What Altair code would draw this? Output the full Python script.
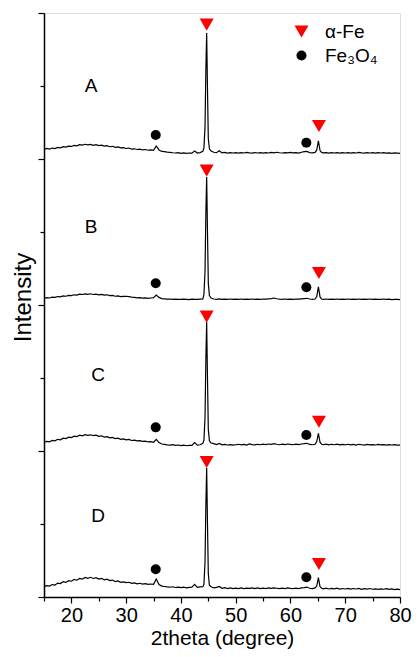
import altair as alt
import pandas as pd

# 2theta sampling positions (degree)
X = [15.0, 15.5, 16.0, 16.5, 17.0, 17.5, 18.0, 18.5, 19.0, 19.5,
     20.0, 20.5, 21.0, 21.5, 22.0, 22.5, 23.0, 23.5, 24.0, 24.5,
     25.0, 25.5, 26.0, 26.5, 27.0, 27.5, 28.0, 28.5, 29.0, 29.5,
     30.0, 30.5, 31.0, 31.5, 32.0, 32.5, 33.0, 33.5, 34.0, 34.5,
     35.0, 35.5, 36.0, 36.5, 37.0, 37.5, 38.0, 38.5, 39.0, 39.5,
     40.0, 40.5, 41.0, 41.5, 42.0, 42.5, 43.0, 43.5, 44.0,
     44.2, 44.4, 44.55, 44.7, 44.85, 45.0, 45.2,
     45.5, 46.0, 46.5, 47.0, 47.5, 48.0, 48.5, 49.0, 49.5, 50.0,
     50.5, 51.0, 51.5, 52.0, 52.5, 53.0, 53.5, 54.0, 54.5, 55.0,
     55.5, 56.0, 56.5, 57.0, 57.5, 58.0, 58.5, 59.0, 59.5, 60.0,
     60.5, 61.0, 61.5, 62.0, 62.5, 63.0, 63.5, 64.0, 64.5,
     64.8, 65.1, 65.4, 65.7,
     66.0, 66.5, 67.0, 67.5, 68.0, 68.5, 69.0, 69.5, 70.0,
     70.5, 71.0, 71.5, 72.0, 72.5, 73.0, 73.5, 74.0, 74.5, 75.0,
     75.5, 76.0, 76.5, 77.0, 77.5, 78.0, 78.5, 79.0, 79.5, 80.0]

# intensities (a.u.)
A = [66, 72, 68, 75, 71, 79, 76, 84, 81, 88,
     86, 93, 90, 98, 95, 101, 97, 100, 94, 98,
     92, 95, 88, 91, 84, 87, 80, 83, 76, 78,
     72, 75, 68, 70, 65, 68, 62, 65, 60, 63,
     60, 89, 62, 52, 50, 47, 46, 43, 41, 44,
     39, 42, 38, 41, 40, 55, 41, 44, 52,
     75, 220, 600, 863, 480, 140, 70,
     55, 46, 43, 56, 42, 45, 40, 44, 41, 43,
     40, 44, 41, 45, 42, 40, 44, 41, 43, 40,
     44, 41, 45, 42, 46, 43, 41, 44, 42, 45,
     42, 44, 41, 46, 50, 52, 44, 42, 45,
     62, 125, 58, 45,
     42, 44, 40, 43, 41, 44, 40, 43, 41,
     44, 40, 43, 41, 45, 42, 40, 44, 41, 43,
     40, 44, 41, 43, 40, 42, 39, 42, 40, 38]

B = [46, 50, 48, 54, 52, 58, 56, 62, 60, 66,
     64, 70, 68, 74, 72, 76, 73, 77, 72, 75,
     70, 73, 68, 70, 64, 66, 60, 62, 57, 59,
     60, 58, 54, 52, 49, 50, 47, 49, 46, 48,
     50, 68, 52, 44, 42, 40, 41, 38, 40, 39,
     38, 40, 39, 37, 40, 39, 38, 40, 42,
     70, 230, 620, 877, 500, 150, 65,
     48, 41, 39, 42, 38, 40, 39, 41, 38, 40,
     39, 41, 38, 40, 39, 41, 38, 40, 39, 41,
     40, 42, 44, 48, 43, 40, 39, 41, 38, 40,
     39, 41, 40, 42, 44, 46, 41, 39, 41,
     58, 125, 55, 41,
     39, 41, 38, 40, 39, 41, 38, 40, 39,
     41, 38, 40, 39, 41, 38, 40, 39, 41, 38,
     40, 38, 39, 41, 38, 40, 37, 39, 38, 37]

C = [60, 66, 63, 72, 70, 80, 77, 88, 85, 95,
     92, 102, 98, 108, 104, 112, 107, 111, 105, 109,
     100, 104, 95, 98, 90, 93, 85, 88, 80, 83,
     76, 79, 72, 74, 69, 71, 66, 68, 62, 64,
     60, 80, 58, 48, 45, 42, 40, 43, 38, 41,
     37, 40, 36, 39, 38, 58, 40, 43, 52,
     75, 230, 620, 884, 500, 150, 70,
     55, 50, 44, 52, 42, 45, 41, 44, 40, 43,
     46, 42, 45, 41, 48, 44, 42, 46, 43, 47,
     44, 48, 45, 50, 46, 43, 47, 44, 48, 45,
     43, 47, 44, 48, 50, 53, 45, 43, 46,
     65, 121, 60, 46,
     43, 47, 42, 46, 43, 47, 42, 45, 43,
     46, 42, 45, 41, 46, 43, 40, 45, 42, 44,
     41, 45, 42, 44, 40, 43, 41, 44, 40, 40]

D = [71, 78, 75, 85, 82, 95, 92, 105, 100, 112,
     108, 120, 115, 127, 122, 134, 128, 135, 127, 132,
     123, 128, 118, 122, 112, 116, 106, 110, 100, 104,
     98, 101, 94, 97, 90, 94, 88, 91, 86, 89,
     87, 123, 85, 75, 72, 69, 67, 70, 65, 68,
     64, 67, 63, 66, 68, 87, 66, 69, 70,
     85, 240, 620, 884, 500, 160, 80,
     70, 62, 66, 72, 60, 64, 58, 62, 57, 61,
     58, 62, 57, 61, 59, 63, 58, 62, 57, 61,
     58, 62, 59, 63, 60, 57, 61, 58, 62, 59,
     57, 61, 58, 62, 64, 68, 60, 58, 62,
     75, 132, 70, 60,
     56, 60, 55, 59, 56, 60, 54, 58, 55,
     59, 54, 58, 55, 59, 53, 57, 54, 58, 53,
     56, 52, 56, 53, 57, 52, 55, 51, 54, 50]

SAMPLES = ["A", "B", "C", "D"]
OFFSETS = [3000, 2000, 1000, 0]

# phase markers
PHASES = ["α-Fe", "Fe₃O₄"]
FE_X = [44.7, 65.2]
FE_Y = {"A": [920, 226], "B": [920, 219], "C": [920, 200], "D": [925, 226]}
OX_X = [35.4, 62.9]
OX_Y = {"A": [164, 112], "B": [149, 121], "C": [162, 110], "D": [190, 135]}

# sample labels
LAB_X = [23.6, 23.6, 24.9, 24.9]
LAB_Y = [500, 536, 520, 557]

FONT = "Liberation Sans"

rows = []
for s, off, vals in zip(SAMPLES, OFFSETS, [A, B, C, D]):
    for x, v in zip(X, vals):
        rows.append({"sample": s, "tt": x, "I": off + v})
df = pd.DataFrame(rows)

mrows = []
for s, off in zip(SAMPLES, OFFSETS):
    for x, y in zip(FE_X, FE_Y[s]):
        mrows.append({"phase": PHASES[0], "tt": x, "I": off + y})
    for x, y in zip(OX_X, OX_Y[s]):
        mrows.append({"phase": PHASES[1], "tt": x, "I": off + y})
dm = pd.DataFrame(mrows)

dl = pd.DataFrame({"label": SAMPLES, "tt": LAB_X,
                   "I": [o + v for o, v in zip(OFFSETS, LAB_Y)]})

xs = alt.Scale(domain=[15, 80], nice=False, zero=False)
ys = alt.Scale(domain=[0, 4000], nice=False, zero=False)

line = alt.Chart(df).mark_line(color="black", strokeWidth=1.2).encode(
    x=alt.X("tt:Q", scale=xs, axis=alt.Axis(
        values=[20, 30, 40, 50, 60, 70, 80], tickSize=6, tickWidth=1.2,
        tickColor="black", labelFontSize=20, labelFont=FONT, labelColor="black",
        labelPadding=2, labelFlush=False, grid=False, domainColor="black", domainWidth=1.5,
        title="2theta (degree)", titleFont=FONT, titleFontSize=21,
        titleFontWeight="normal", titleColor="black", titleBaseline="alphabetic",
        titleY=47.5)),
    y=alt.Y("I:Q", scale=ys, axis=alt.Axis(
        values=[0, 1000, 2000, 3000, 4000], labels=False, tickSize=6, tickWidth=1.2,
        tickColor="black", grid=False, domainColor="black", domainWidth=1.5,
        title="Intensity", titleFont=FONT, titleFontSize=24, titleFontWeight="normal",
        titleColor="black", titleBaseline="alphabetic", titleX=-14, titleY=284,
        titleAngle=-90, titleAlign="center")),
    detail="sample:N",
    order="tt:Q",
)

leg = dict(title=None, orient="none", legendX=248, legendY=9,
           labelFontSize=19, labelFont=FONT, labelColor="black",
           symbolStrokeWidth=0, rowPadding=4, labelOffset=14)

marks = alt.Chart(dm).mark_point(filled=True, opacity=1, strokeWidth=0).encode(
    x=alt.X("tt:Q", scale=xs, axis=None),
    y=alt.Y("I:Q", scale=ys, axis=None),
    color=alt.Color("phase:N", scale=alt.Scale(domain=PHASES, range=["#ff0000", "#000000"]),
                    legend=alt.Legend(**leg)),
    shape=alt.Shape("phase:N", scale=alt.Scale(domain=PHASES, range=["triangle-down", "circle"]),
                    legend=alt.Legend(**leg)),
    size=alt.Size("phase:N", scale=alt.Scale(domain=PHASES, range=[196, 100]),
                  legend=alt.Legend(**leg)),
)

labels = alt.Chart(dl).mark_text(fontSize=19, font=FONT, color="black").encode(
    x=alt.X("tt:Q", scale=xs, axis=alt.Axis(
        values=[15, 25, 35, 45, 55, 65, 75], labels=False, tickSize=4, tickWidth=1.2,
        tickColor="black", domain=False, grid=False, title=None, orient="bottom")),
    y=alt.Y("I:Q", scale=ys, axis=alt.Axis(
        values=[500, 1500, 2500, 3500], labels=False, tickSize=4, tickWidth=1.2,
        tickColor="black", domain=False, grid=False, title=None, orient="left")),
    text="label:N",
)

chart = alt.layer(line, marks, labels).resolve_axis(
    x="independent", y="independent"
).properties(
    width=356, height=584,
    autosize=alt.AutoSizeParams(type="none"),
    padding={"left": 36, "top": 5, "right": 12, "bottom": 52},
).configure_view(stroke="black", strokeWidth=1.5).configure(background="white")

chart.save("out.html", embed_options={"renderer": "svg", "actions": False})
